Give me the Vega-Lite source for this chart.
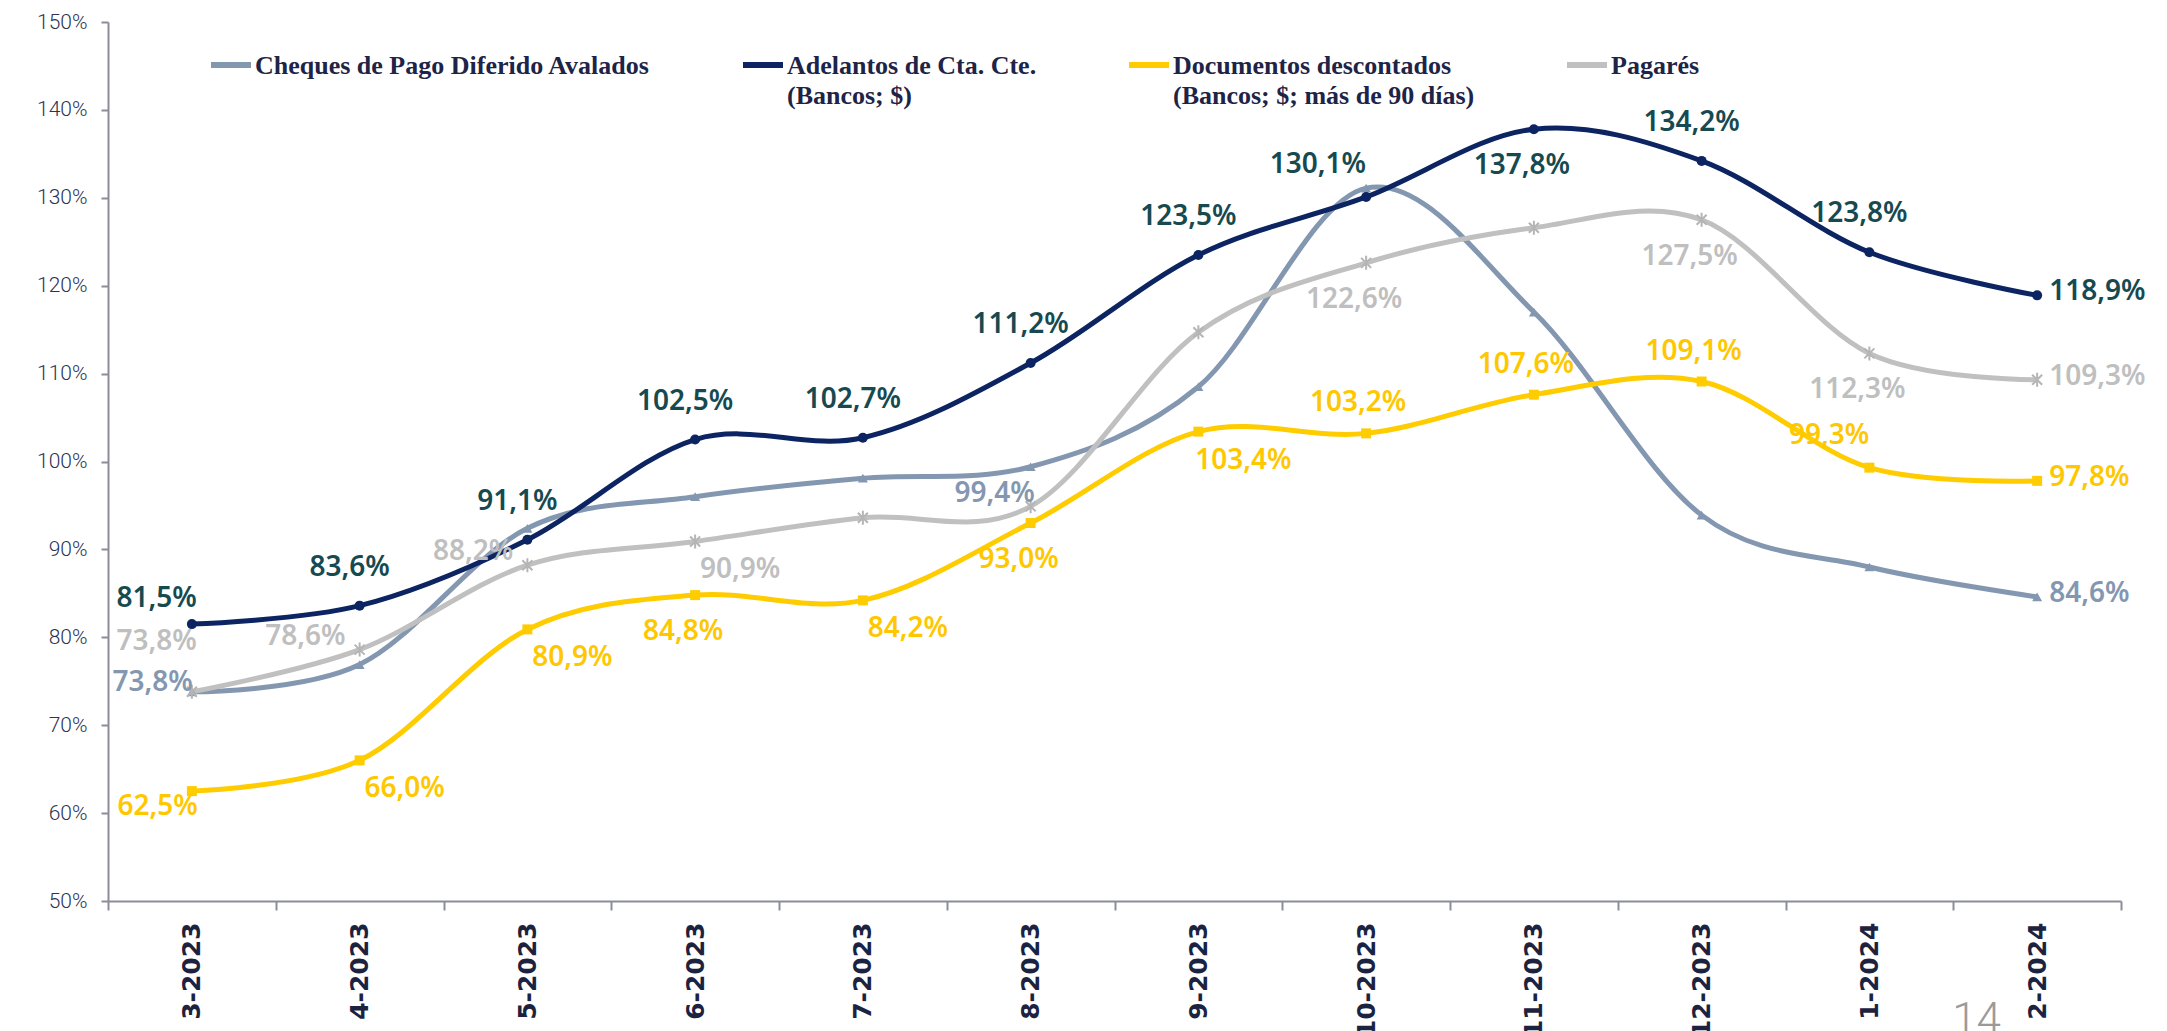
{
  "$schema": "https://vega.github.io/schema/vega-lite/v6.json",
  "width": 2013,
  "height": 879,
  "autosize": {"type": "none"},
  "padding": {"left": 108, "top": 22, "right": 46, "bottom": 130},
  "background": "white",
  "title": {"text": "14", "orient": "bottom", "anchor": "end", "frame": "group", "offset": -38, "dx": -120, "font": "Roboto", "fontWeight": 300, "fontSize": 44, "color": "#9a9a9a"},
  "config": {
    "locale": {"number": {"decimal": ",", "thousands": ".", "grouping": [3], "currency": ["$", ""]}},
    "view": {"stroke": null},
    "style": {"guide-label": {"lineHeight": 30}},
    "axis": {"domainColor": "#8c8c9a", "tickColor": "#8c8c9a", "domainWidth": 2, "tickWidth": 2, "grid": false, "title": null}
  },
  "data": {
    "values": [
      {"mes": "3-2023", "serie": "Cheques de Pago Diferido Avalados", "valor": 0.738},
      {"mes": "4-2023", "serie": "Cheques de Pago Diferido Avalados", "valor": 0.769},
      {"mes": "5-2023", "serie": "Cheques de Pago Diferido Avalados", "valor": 0.924},
      {"mes": "6-2023", "serie": "Cheques de Pago Diferido Avalados", "valor": 0.960},
      {"mes": "7-2023", "serie": "Cheques de Pago Diferido Avalados", "valor": 0.981},
      {"mes": "8-2023", "serie": "Cheques de Pago Diferido Avalados", "valor": 0.994},
      {"mes": "9-2023", "serie": "Cheques de Pago Diferido Avalados", "valor": 1.085},
      {"mes": "10-2023", "serie": "Cheques de Pago Diferido Avalados", "valor": 1.311},
      {"mes": "11-2023", "serie": "Cheques de Pago Diferido Avalados", "valor": 1.170},
      {"mes": "12-2023", "serie": "Cheques de Pago Diferido Avalados", "valor": 0.939},
      {"mes": "1-2024", "serie": "Cheques de Pago Diferido Avalados", "valor": 0.880},
      {"mes": "2-2024", "serie": "Cheques de Pago Diferido Avalados", "valor": 0.846},
      {"mes": "3-2023", "serie": "Adelantos de Cta. Cte.", "valor": 0.815},
      {"mes": "4-2023", "serie": "Adelantos de Cta. Cte.", "valor": 0.836},
      {"mes": "5-2023", "serie": "Adelantos de Cta. Cte.", "valor": 0.911},
      {"mes": "6-2023", "serie": "Adelantos de Cta. Cte.", "valor": 1.025},
      {"mes": "7-2023", "serie": "Adelantos de Cta. Cte.", "valor": 1.027},
      {"mes": "8-2023", "serie": "Adelantos de Cta. Cte.", "valor": 1.112},
      {"mes": "9-2023", "serie": "Adelantos de Cta. Cte.", "valor": 1.235},
      {"mes": "10-2023", "serie": "Adelantos de Cta. Cte.", "valor": 1.301},
      {"mes": "11-2023", "serie": "Adelantos de Cta. Cte.", "valor": 1.378},
      {"mes": "12-2023", "serie": "Adelantos de Cta. Cte.", "valor": 1.342},
      {"mes": "1-2024", "serie": "Adelantos de Cta. Cte.", "valor": 1.238},
      {"mes": "2-2024", "serie": "Adelantos de Cta. Cte.", "valor": 1.189},
      {"mes": "3-2023", "serie": "Documentos descontados", "valor": 0.625},
      {"mes": "4-2023", "serie": "Documentos descontados", "valor": 0.660},
      {"mes": "5-2023", "serie": "Documentos descontados", "valor": 0.809},
      {"mes": "6-2023", "serie": "Documentos descontados", "valor": 0.848},
      {"mes": "7-2023", "serie": "Documentos descontados", "valor": 0.842},
      {"mes": "8-2023", "serie": "Documentos descontados", "valor": 0.930},
      {"mes": "9-2023", "serie": "Documentos descontados", "valor": 1.034},
      {"mes": "10-2023", "serie": "Documentos descontados", "valor": 1.032},
      {"mes": "11-2023", "serie": "Documentos descontados", "valor": 1.076},
      {"mes": "12-2023", "serie": "Documentos descontados", "valor": 1.091},
      {"mes": "1-2024", "serie": "Documentos descontados", "valor": 0.993},
      {"mes": "2-2024", "serie": "Documentos descontados", "valor": 0.978},
      {"mes": "3-2023", "serie": "Pagarés", "valor": 0.738},
      {"mes": "4-2023", "serie": "Pagarés", "valor": 0.786},
      {"mes": "5-2023", "serie": "Pagarés", "valor": 0.882},
      {"mes": "6-2023", "serie": "Pagarés", "valor": 0.909},
      {"mes": "7-2023", "serie": "Pagarés", "valor": 0.936},
      {"mes": "8-2023", "serie": "Pagarés", "valor": 0.949},
      {"mes": "9-2023", "serie": "Pagarés", "valor": 1.147},
      {"mes": "10-2023", "serie": "Pagarés", "valor": 1.226},
      {"mes": "11-2023", "serie": "Pagarés", "valor": 1.266},
      {"mes": "12-2023", "serie": "Pagarés", "valor": 1.275},
      {"mes": "1-2024", "serie": "Pagarés", "valor": 1.123},
      {"mes": "2-2024", "serie": "Pagarés", "valor": 1.093}
    ]
  },
  "encoding": {
    "x": {
      "field": "mes", "type": "ordinal",
      "sort": ["3-2023", "4-2023", "5-2023", "6-2023", "7-2023", "8-2023", "9-2023", "10-2023", "11-2023", "12-2023", "1-2024", "2-2024"],
      "scale": {"type": "band", "paddingInner": 0, "paddingOuter": 0},
      "bandPosition": 0.5,
      "axis": {"labelAngle": -90, "tickBand": "extent", "tickSize": 9, "labelPadding": 12, "labelFont": "DejaVu Sans", "labelFontWeight": "bold", "labelFontSize": 25, "labelColor": "#1c2340"}
    },
    "y": {
      "field": "valor", "type": "quantitative",
      "scale": {"domain": [0.5, 1.5], "nice": false, "zero": false},
      "axis": {"values": [0.5, 0.6, 0.7, 0.8, 0.9, 1.0, 1.1, 1.2, 1.3, 1.4, 1.5], "format": ".0%", "tickSize": 7, "labelPadding": 14, "labelFont": "Roboto", "labelFontWeight": 300, "labelFontSize": 21, "labelColor": "#2e3350"}
    }
  },
  "layer": [
    {
      "mark": {"type": "line", "interpolate": "cardinal", "strokeWidth": 5},
      "encoding": {
        "color": {
          "field": "serie", "type": "nominal",
          "scale": {"domain": ["Cheques de Pago Diferido Avalados", "Adelantos de Cta. Cte.", "Documentos descontados", "Pagarés"], "range": ["#8497b0", "#0c2461", "#ffcc00", "#c0c0c0"]},
          "legend": {
            "orient": "none", "legendX": 100, "legendY": 8, "direction": "horizontal", "title": null,
            "symbolType": "M-1,0.6H1", "symbolSize": 1600, "symbolStrokeWidth": 6,
            "labelFont": "Liberation Serif", "labelFontWeight": "bold", "labelFontSize": 26, "labelColor": "#1e2447",
            "labelOffset": 1, "labelLimit": 0, "columnPadding": 80, "labelBaseline": "top",
            "labelExpr": "datum.label == 'Adelantos de Cta. Cte.' ? ['Adelantos de Cta. Cte.', '(Bancos; $)'] : datum.label == 'Documentos descontados' ? ['Documentos descontados', '(Bancos; $; más de 90 días)'] : [datum.label, ' ']"
          }
        }
      }
    },
    {
      "transform": [{"filter": "datum.serie != 'Pagarés'"}],
      "mark": {"type": "point", "filled": true, "size": 100, "opacity": 1},
      "encoding": {
        "color": {"field": "serie", "type": "nominal"},
        "shape": {"field": "serie", "type": "nominal", "scale": {"domain": ["Cheques de Pago Diferido Avalados", "Adelantos de Cta. Cte.", "Documentos descontados"], "range": ["triangle-up", "circle", "square"]}, "legend": null}
      }
    },
    {
      "transform": [{"filter": "datum.serie == 'Pagarés'"}],
      "mark": {"type": "point", "filled": false, "shape": "M-1,-1L1,1M-1,1L1,-1M0,-1.4V1.4", "size": 100, "strokeWidth": 2, "color": "#b5b5b5", "opacity": 1}
    },
    {
      "transform": [{"filter": "(datum.serie == 'Adelantos de Cta. Cte.' && indexof(['4-2023','5-2023','6-2023','7-2023','8-2023','9-2023','12-2023','1-2024'], datum.mes) >= 0)"}],
      "mark": {"type": "text", "font": "Noto Sans", "fontWeight": 600, "fontSize": 28, "align": "center", "baseline": "middle", "dx": -10, "dy": -38},
      "encoding": {"text": {"field": "valor", "format": ".1%"}, "fill": {"field": "serie", "type": "nominal", "scale": {"domain": ["Cheques de Pago Diferido Avalados", "Adelantos de Cta. Cte.", "Documentos descontados", "Pagarés"], "range": ["#8497b0", "#164a50", "#ffc700", "#bfbfbf"]}, "legend": null}}
    },
    {
      "transform": [{"filter": "(datum.serie == 'Documentos descontados' && indexof(['10-2023','11-2023','12-2023'], datum.mes) >= 0)"}],
      "mark": {"type": "text", "font": "Noto Sans", "fontWeight": 600, "fontSize": 28, "align": "center", "baseline": "middle", "dx": -8, "dy": -30},
      "encoding": {"text": {"field": "valor", "format": ".1%"}, "fill": {"field": "serie", "type": "nominal", "legend": null}}
    },
    {
      "transform": [{"filter": "(datum.serie == 'Adelantos de Cta. Cte.' && datum.mes == '10-2023') || (datum.serie == 'Documentos descontados' && datum.mes == '1-2024')"}],
      "mark": {"type": "text", "font": "Noto Sans", "fontWeight": 600, "fontSize": 28, "align": "right", "baseline": "middle", "dx": 0, "dy": -32},
      "encoding": {"text": {"field": "valor", "format": ".1%"}, "fill": {"field": "serie", "type": "nominal", "legend": null}}
    },
    {
      "transform": [{"filter": "(datum.serie == 'Adelantos de Cta. Cte.' && datum.mes == '11-2023') || (datum.serie == 'Documentos descontados' && indexof(['6-2023','8-2023'], datum.mes) >= 0) || (datum.serie == 'Pagarés' && indexof(['10-2023','12-2023','1-2024'], datum.mes) >= 0)"}],
      "mark": {"type": "text", "font": "Noto Sans", "fontWeight": 600, "fontSize": 28, "align": "center", "baseline": "middle", "dx": -12, "dy": 37},
      "encoding": {"text": {"field": "valor", "format": ".1%"}, "fill": {"field": "serie", "type": "nominal", "legend": null}}
    },
    {
      "transform": [{"filter": "(datum.serie == 'Documentos descontados' && indexof(['4-2023','5-2023','7-2023','9-2023'], datum.mes) >= 0) || (datum.serie == 'Pagarés' && datum.mes == '6-2023')"}],
      "mark": {"type": "text", "font": "Noto Sans", "fontWeight": 600, "fontSize": 28, "align": "center", "baseline": "middle", "dx": 45, "dy": 29},
      "encoding": {"text": {"field": "valor", "format": ".1%"}, "fill": {"field": "serie", "type": "nominal", "legend": null}}
    },
    {
      "transform": [{"filter": "datum.mes == '2-2024'"}],
      "mark": {"type": "text", "font": "Noto Sans", "fontWeight": 600, "fontSize": 28, "align": "left", "baseline": "middle", "dx": 12, "dy": -3},
      "encoding": {"text": {"field": "valor", "format": ".1%"}, "fill": {"field": "serie", "type": "nominal", "legend": null}}
    },
    {
      "transform": [{"filter": "datum.serie == 'Pagarés' && indexof(['4-2023','5-2023'], datum.mes) >= 0"}],
      "mark": {"type": "text", "font": "Noto Sans", "fontWeight": 600, "fontSize": 28, "align": "right", "baseline": "middle", "dx": -14, "dy": -13},
      "encoding": {"text": {"field": "valor", "format": ".1%"}, "fill": {"field": "serie", "type": "nominal", "legend": null}}
    },
    {
      "transform": [{"filter": "datum.serie == 'Cheques de Pago Diferido Avalados' && datum.mes == '8-2023'"}],
      "mark": {"type": "text", "font": "Noto Sans", "fontWeight": 600, "fontSize": 28, "align": "center", "baseline": "middle", "dx": -36, "dy": 27},
      "encoding": {"text": {"field": "valor", "format": ".1%"}, "fill": {"field": "serie", "type": "nominal", "legend": null}}
    },
    {
      "transform": [{"filter": "datum.mes == '3-2023' && datum.serie == 'Adelantos de Cta. Cte.'"}],
      "mark": {"type": "text", "font": "Noto Sans", "fontWeight": 600, "fontSize": 28, "align": "right", "baseline": "middle", "dx": 5, "dy": -25},
      "encoding": {"text": {"field": "valor", "format": ".1%"}, "fill": {"field": "serie", "type": "nominal", "legend": null}}
    },
    {
      "transform": [{"filter": "datum.mes == '3-2023' && datum.serie == 'Pagarés'"}],
      "mark": {"type": "text", "font": "Noto Sans", "fontWeight": 600, "fontSize": 28, "align": "right", "baseline": "middle", "dx": 5, "dy": -50},
      "encoding": {"text": {"field": "valor", "format": ".1%"}, "fill": {"field": "serie", "type": "nominal", "legend": null}}
    },
    {
      "transform": [{"filter": "datum.mes == '3-2023' && datum.serie == 'Cheques de Pago Diferido Avalados'"}],
      "mark": {"type": "text", "font": "Noto Sans", "fontWeight": 600, "fontSize": 28, "align": "right", "baseline": "middle", "dx": 1, "dy": -9},
      "encoding": {"text": {"field": "valor", "format": ".1%"}, "fill": {"field": "serie", "type": "nominal", "legend": null}}
    },
    {
      "transform": [{"filter": "datum.mes == '3-2023' && datum.serie == 'Documentos descontados'"}],
      "mark": {"type": "text", "font": "Noto Sans", "fontWeight": 600, "fontSize": 28, "align": "right", "baseline": "middle", "dx": 6, "dy": 16},
      "encoding": {"text": {"field": "valor", "format": ".1%"}, "fill": {"field": "serie", "type": "nominal", "legend": null}}
    }
  ]
}
